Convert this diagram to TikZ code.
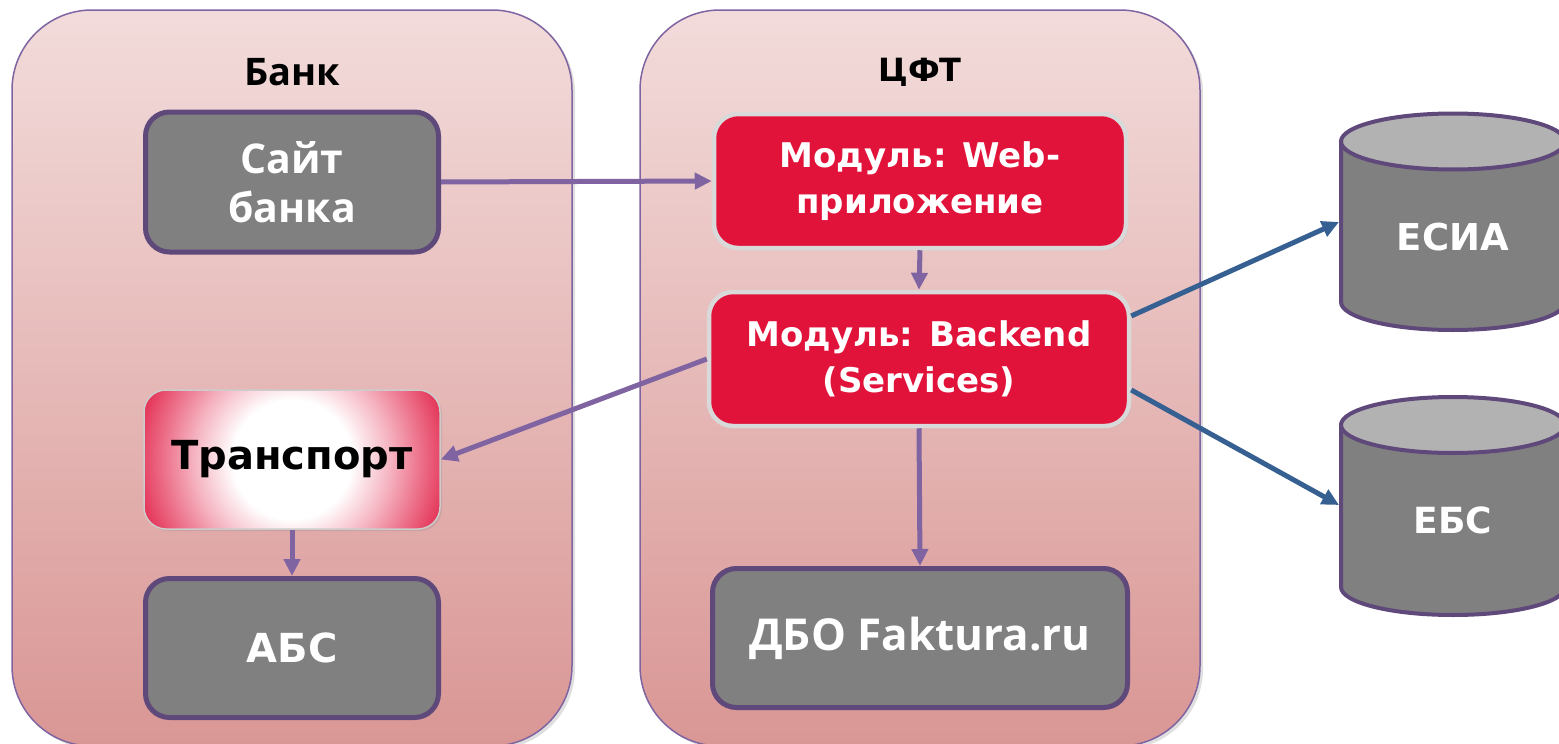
\documentclass[tikz,border=0pt]{standalone}
\usepackage{fontspec}
\setmainfont{Open Sans}
\newfontfamily\mfont{DejaVu Sans}
\newfontfamily\ofont{Open Sans}
\usetikzlibrary{arrows.meta,shadows}
\definecolor{contline}{HTML}{8064A2}
\definecolor{conttop}{HTML}{F2DCDB}
\definecolor{contbot}{HTML}{D99694}
\definecolor{greyfill}{HTML}{808080}
\definecolor{greyline}{HTML}{5F497A}
\definecolor{tred}{HTML}{E1133A}
\definecolor{tedge}{HTML}{E2234A}
\definecolor{redline}{HTML}{D9D9D9}
\definecolor{arrpurple}{HTML}{8064A2}
\definecolor{arrblue}{HTML}{376092}
\definecolor{cyltopc}{HTML}{B2B2B2}
\pgfdeclareradialshading{transpshade}{\pgfpoint{0bp}{0bp}}{color(0bp)=(white); color(9bp)=(white); color(15bp)=(tedge!35!white); color(20bp)=(tedge!68!white); color(25bp)=(tedge); color(50bp)=(tedge)}
\tikzset{
  container/.style={draw=contline, line width=1.5pt, rounded corners=80pt, top color=conttop, bottom color=contbot,
    drop shadow={opacity=0.25, shadow xshift=3pt, shadow yshift=-3pt}},
  greybox/.style={draw=greyline, line width=5pt, fill=greyfill, rounded corners=24pt, text=white, align=center,
    drop shadow={opacity=0.2, shadow xshift=2pt, shadow yshift=-2pt}},
  redbox/.style={draw=redline, line width=4.5pt, fill=tred, rounded corners=24pt, text=white, align=center,
    drop shadow={opacity=0.2, shadow xshift=2pt, shadow yshift=-2pt}},
  transpbox/.style={draw=black!20, line width=1.5pt, fill=tedge, rounded corners=22pt, align=center,
    drop shadow={opacity=0.2, shadow xshift=2pt, shadow yshift=-2pt},
    path picture={\shade[shading=transpshade] (path picture bounding box.center) circle[radius=165pt];}},
  cylbody/.style={draw=greyline, line width=4pt, fill=greyfill},
  cyltop/.style={draw=greyline, line width=4pt, fill=cyltopc},
  parrow/.style={draw=arrpurple, line width=5pt, -{Triangle[length=17pt,width=16pt]}},
  barrow/.style={draw=arrblue, line width=5pt, -{Triangle[length=17pt,width=16pt]}},
  mtext/.style={font=\mfont\bfseries\fontsize{34}{46}\selectfont},
  otext/.style={font=\ofont\bfseries\fontsize{41}{49}\selectfont},
}
\begin{document}
\begin{tikzpicture}[x=1pt,y=-1pt]
\useasboundingbox (0,0) rectangle (1559,744);
\clip (0,0) rectangle (1559,744);
\fill[white] (0,0) rectangle (1559,744);
% containers
\path[container] (12,10) rectangle (572,746);
\path[container] (640,10) rectangle (1200,746);
\node[font=\ofont\bfseries\fontsize{38}{44}\selectfont] (bank) at (292,72) {Банк};
\node[font=\mfont\bfseries\fontsize{32}{40}\selectfont, text=black] (cft) at (920,72) {ЦФТ};
% boxes
\node[greybox, otext, minimum width=293pt, minimum height=140pt] (site) at (292,182) {Сайт\\банка};
\node[redbox, mtext, minimum width=412pt, minimum height=134pt] (web) at (920,181) {Модуль: Web-\\приложение};
\node[redbox, mtext, minimum width=420pt, minimum height=134pt] (back) at (919,359) {Модуль: Backend\\(Services)};
\node[transpbox, font=\mfont\bfseries\fontsize{40}{46}\selectfont, minimum width=296pt, minimum height=139pt] (transp) at (292,459.5) {Транспорт};
\node[greybox, font=\mfont\bfseries\fontsize{40}{48}\selectfont, minimum width=293pt, minimum height=139pt] (abs) at (292,648) {АБС};
\node[greybox, font=\ofont\bfseries\fontsize{44}{50}\selectfont, minimum width=415pt, minimum height=139pt] (dbo) at (920,638) {ДБО Faktura.ru};
% cylinders
\draw[cylbody] (1341,141.5) -- (1341,302) arc[start angle=180, end angle=0, x radius=112, y radius=28] -- (1565,141.5) -- cycle;
\draw[cyltop] (1453,141.5) ellipse[x radius=112, y radius=28];
\node[font=\mfont\bfseries\fontsize{37}{42}\selectfont, text=white] (esia) at (1453,237) {ЕСИА};
\draw[cylbody] (1341,425) -- (1341,587) arc[start angle=180, end angle=0, x radius=112, y radius=28] -- (1565,425) -- cycle;
\draw[cyltop] (1453,425) ellipse[x radius=112, y radius=28];
\node[font=\mfont\bfseries\fontsize{36}{42}\selectfont, text=white] (ebs) at (1453,520) {ЕБС};
\coordinate (esiain) at (1339,222);
\coordinate (ebsin) at (1339,505);
% arrows
\draw[parrow] (site.east) -- (web.west);
\draw[parrow] (web.south) -- (back.north);
\draw[parrow] (back.west) -- (transp.east);
\draw[parrow] (transp.south) -- (abs.north);
\draw[parrow] (back.south) -- (dbo.north);
\draw[barrow] ([yshift=43pt]back.east) -- (esiain);
\draw[barrow] ([yshift=-31pt]back.east) -- (ebsin);
\end{tikzpicture}
\end{document}
